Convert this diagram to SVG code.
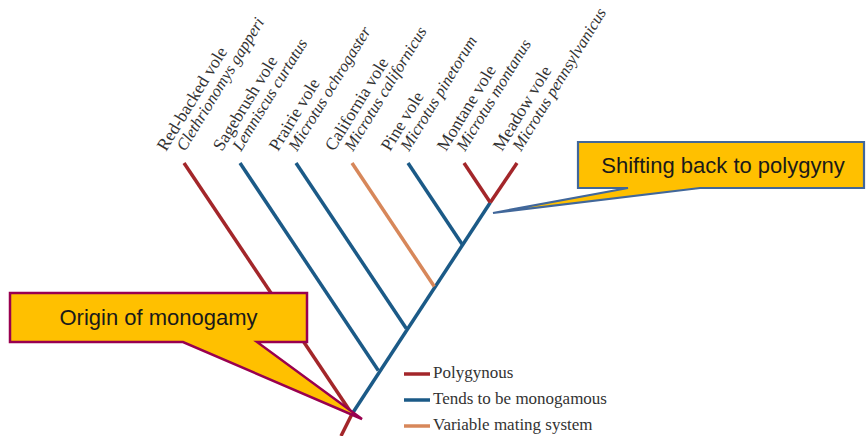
<svg xmlns="http://www.w3.org/2000/svg" width="867" height="436" viewBox="0 0 867 436">
<style>
.br{fill:none;stroke-width:3.5;stroke-linecap:butt}
.red{stroke:#A3262A}
.blue{stroke:#1B5A87}
.orange{stroke:#D7875A}
.cn{font-family:"Liberation Serif",serif;font-size:17.5px;fill:#333}
.ln{font-family:"Liberation Serif",serif;font-size:16.5px;font-style:italic;fill:#333}
.lg{font-family:"Liberation Serif",serif;font-size:17px;fill:#333}
.co{font-family:"Liberation Sans",sans-serif;font-size:22px;fill:#1a1a1a;text-anchor:middle}
</style>
<rect width="867" height="436" fill="#fff"/>
<g id="connectors">
<line class="br red" x1="184" y1="163" x2="352" y2="414"/>
<line class="br red" x1="352" y1="414" x2="341" y2="436"/>
<line class="br blue" x1="352" y1="414" x2="490.3" y2="202.5"/>
<line class="br blue" x1="240" y1="163" x2="378.3" y2="370.5"/>
<line class="br blue" x1="296" y1="163" x2="406.3" y2="328.5"/>
<line class="br orange" x1="352" y1="163" x2="434.3" y2="286.5"/>
<line class="br blue" x1="408" y1="163" x2="462.3" y2="244.5"/>
<line class="br red" x1="464" y1="163" x2="490.3" y2="202.5"/>
<line class="br red" x1="517" y1="163" x2="490.3" y2="202.5"/>
</g>
<g id="leaf-redbacked">
<text class="cn" transform="translate(166,152) rotate(-58.5)">Red-backed vole</text>
<text class="ln" transform="translate(185,152) rotate(-58.5)">Clethrionomys gapperi</text>
</g>
<g id="leaf-sagebrush">
<text class="cn" transform="translate(222,152) rotate(-58.5)">Sagebrush vole</text>
<text class="ln" transform="translate(241,152) rotate(-58.5)">Lemniscus curtatus</text>
</g>
<g id="leaf-prairie">
<text class="cn" transform="translate(278,152) rotate(-58.5)">Prairie vole</text>
<text class="ln" transform="translate(297,152) rotate(-58.5)">Microtus ochrogaster</text>
</g>
<g id="leaf-california">
<text class="cn" transform="translate(334,152) rotate(-58.5)">California vole</text>
<text class="ln" transform="translate(353,152) rotate(-58.5)">Microtus californicus</text>
</g>
<g id="leaf-pine">
<text class="cn" transform="translate(390,152) rotate(-58.5)">Pine vole</text>
<text class="ln" transform="translate(409,152) rotate(-58.5)">Microtus pinetorum</text>
</g>
<g id="leaf-montane">
<text class="cn" transform="translate(446,152) rotate(-58.5)">Montane vole</text>
<text class="ln" transform="translate(465,152) rotate(-58.5)">Microtus montanus</text>
</g>
<g id="leaf-meadow">
<text class="cn" transform="translate(502,152) rotate(-58.5)">Meadow vole</text>
<text class="ln" transform="translate(521,152) rotate(-58.5)">Microtus pennsylvanicus</text>
</g>
<g id="callout-shifting">
<path d="M578,142 H864 V188 H700 L493,213 L628,188 H578 Z" fill="#FFC000" stroke="#41679A" stroke-width="2.2" stroke-linejoin="miter"/>
<text class="co" x="723" y="173">Shifting back to polygyny</text>
</g>
<g id="callout-origin">
<path d="M10,293 H307 V342 H257 L362,419 L183,342 H10 Z" fill="#FFC000" stroke="#99004F" stroke-width="2.5" stroke-linejoin="miter"/>
<text class="co" x="158.5" y="325">Origin of monogamy</text>
</g>
<g id="legend">
<line class="br red" x1="404" y1="374" x2="430" y2="374"/>
<text class="lg" x="433" y="378">Polygynous</text>
<line class="br blue" x1="404" y1="400" x2="430" y2="400"/>
<text class="lg" x="433" y="404">Tends to be monogamous</text>
<line class="br orange" x1="404" y1="426" x2="430" y2="426"/>
<text class="lg" x="433" y="430">Variable mating system</text>
</g>
</svg>
